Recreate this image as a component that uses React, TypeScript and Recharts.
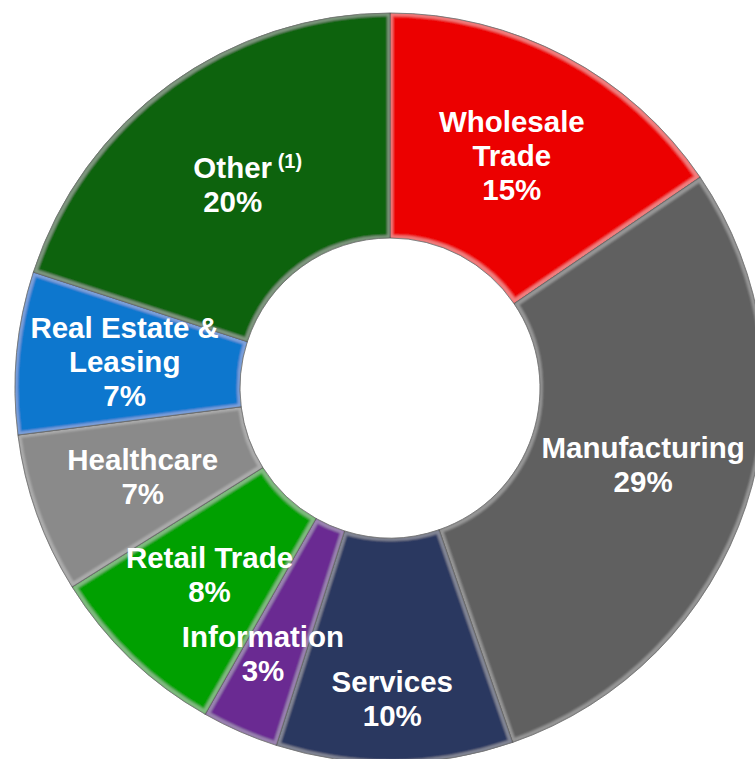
import React from "react";
import { PieChart, Pie, Cell } from "recharts";

const categories = [
  "Wholesale Trade",
  "Manufacturing",
  "Services",
  "Information",
  "Retail Trade",
  "Healthcare",
  "Real Estate & Leasing",
  "Other",
];
// shares (labels show the rounded percentages)
const values = [15.5, 29.2, 10.2, 3.3, 7.9, 6.9, 7.0, 20.0];
const labelLines = [
  ["Wholesale", "Trade", "15%"],
  ["Manufacturing", "29%"],
  ["Services", "10%"],
  ["Information", "3%"],
  ["Retail Trade", "8%"],
  ["Healthcare", "7%"],
  ["Real Estate &", "Leasing", "7%"],
  ["Other", "20%"],
];
const colors = [
  "#EC0000",
  "#606060",
  "#2B3960",
  "#6A2B92",
  "#04A004",
  "#8A8A8A",
  "#0A77CE",
  "#08640A",
];

const data = categories.map((name, i) => ({ name, value: values[i] }));

// small layout nudges for label placement (px)
const NUDGE: Record<number, [number, number]> = {
  0: [-1, -3],
  1: [4, -9],
  2: [-1, 46],
  3: [-22, 22],
  4: [1, -6],
  5: [0, -2],
  6: [-4, -4],
  7: [-3, 6],
};

const FONT = "'Liberation Sans', Arial, sans-serif";
const FS = 29.5;
const LH = 34;

const renderLabel = (props: any) => {
  const { cx, cy, midAngle, innerRadius, outerRadius, index } = props;
  const r = (innerRadius + outerRadius) / 2;
  const rad = (midAngle * Math.PI) / 180;
  const [dx, dy] = NUDGE[index] || [0, 0];
  const x = cx + r * Math.cos(rad) + dx;
  const yc = cy - r * Math.sin(rad) + dy;
  const lines = labelLines[index];
  const n = lines.length;
  return (
    <g key={`lbl-${index}`}>
      {lines.map((t, i) => (
        <text
          key={i}
          x={x}
          y={yc + 13 + (i - (n - 1) / 2) * LH}
          textAnchor="middle"
          fill="#FFFFFF"
          fontFamily={FONT}
          fontWeight="bold"
          fontSize={FS}
        >
          {t}
        </text>
      ))}
      {index === 7 && (
        <text
          x={x + 45}
          y={yc + 13 - LH / 2 - 10}
          textAnchor="start"
          fill="#FFFFFF"
          fontFamily={FONT}
          fontWeight="bold"
          fontSize={20}
        >
          (1)
        </text>
      )}
    </g>
  );
};

export default function App() {
  return (
    <div style={{ position: "absolute", left: 0, top: 0, width: 755, height: 759, background: "#fff" }}>
      <svg width={0} height={0} style={{ position: "absolute" }}>
        <defs>
          <filter id="bevel" x="-5%" y="-5%" width="110%" height="110%">
            <feMorphology in="SourceAlpha" operator="erode" radius="2.5" result="eroded" />
            <feComposite in="SourceAlpha" in2="eroded" operator="out" result="ring" />
            <feGaussianBlur in="ring" stdDeviation="1" result="ringBlur" />
            <feFlood floodColor="#FFFFFF" floodOpacity="0.22" result="white" />
            <feComposite in="white" in2="ringBlur" operator="in" result="hl" />
            <feComposite in="hl" in2="SourceAlpha" operator="in" result="hlIn" />
            <feMerge>
              <feMergeNode in="SourceGraphic" />
              <feMergeNode in="hlIn" />
            </feMerge>
          </filter>
        </defs>
      </svg>
      <PieChart width={755} height={759} margin={{ top: 0, right: 0, bottom: 0, left: 0 }}>
        <Pie
          data={data}
          dataKey="value"
          nameKey="name"
          cx={390}
          cy={388}
          innerRadius={150}
          outerRadius={375}
          startAngle={90}
          endAngle={-270}
          isAnimationActive={false}
          labelLine={false}
          label={renderLabel}
          stroke="rgba(30,30,30,0.75)"
          strokeWidth={1}
        >
          {data.map((d, i) => (
            <Cell key={d.name} fill={colors[i]} style={{ filter: "url(#bevel)" }} />
          ))}
        </Pie>
      </PieChart>
    </div>
  );
}
